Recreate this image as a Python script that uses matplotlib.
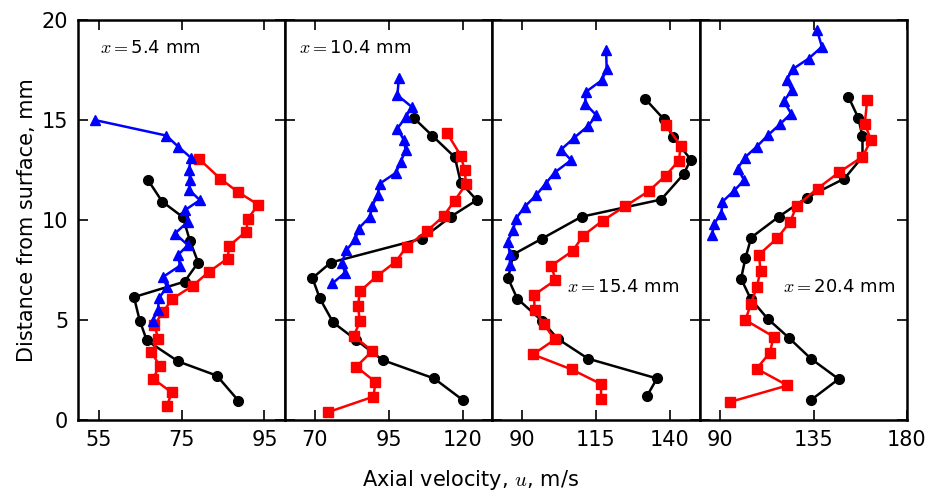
import matplotlib
matplotlib.use("Agg")
import matplotlib.pyplot as plt

plt.rcParams['mathtext.fontset'] = 'cm'

# Axial velocity profiles at four stations; each series: (velocity list, height list)
labels = ["5.4", "10.4", "15.4", "20.4"]
xlims = [(50, 100), (60, 130), (80, 150), (80, 180)]
xticks = [[55, 75, 95], [70, 95, 120], [90, 115, 140], [90, 135, 180]]

# black circles
k_u = [
    [66.9, 70.3, 75.3, 77.0, 79.0, 75.7, 63.5, 64.9, 66.6, 74.2, 83.5, 88.7],
    [103.5, 109.7, 117.3, 119.3, 124.7, 116.0, 106.3, 75.4, 69.2, 71.7, 76.2, 84.0, 92.9, 110.3, 120.0],
    [131.7, 137.9, 140.9, 147.0, 144.6, 137.0, 110.1, 96.7, 87.0, 85.3, 88.4, 96.7, 102.0, 112.3, 135.6, 132.2],
    [151.8, 156.5, 158.6, 158.6, 149.9, 131.6, 118.2, 104.9, 102.1, 100.0, 104.6, 112.8, 123.0, 133.7, 147.1, 133.7],
]
k_y = [
    [12.0, 10.93, 10.15, 8.97, 7.88, 6.92, 6.15, 4.97, 3.98, 2.93, 2.22, 0.97],
    [15.1, 14.22, 13.15, 11.88, 11.0, 10.18, 9.08, 7.88, 7.1, 6.08, 4.88, 4.0, 3.0, 2.08, 1.0],
    [16.05, 15.05, 14.17, 13.03, 12.3, 11.03, 10.17, 9.07, 8.28, 7.08, 6.07, 4.97, 4.07, 3.07, 2.08, 1.2],
    [16.17, 15.13, 14.2, 13.17, 12.08, 11.12, 10.17, 9.13, 8.1, 7.07, 6.07, 5.07, 4.12, 3.07, 2.05, 1.0],
]

# red squares
r_u = [
    [79.1, 84.3, 88.5, 93.5, 91.0, 90.6, 86.5, 86.1, 81.5, 77.7, 72.8, 70.5, 68.4, 69.4, 67.7, 69.7, 68.1, 72.6, 71.5],
    [114.6, 119.3, 120.6, 121.1, 117.2, 113.5, 108.0, 101.0, 97.4, 91.0, 85.2, 84.6, 85.2, 83.2, 89.4, 84.0, 90.5, 89.8, 74.6],
    [138.5, 143.6, 143.0, 138.5, 132.8, 124.9, 117.2, 110.6, 107.2, 99.9, 101.3, 94.0, 94.3, 97.4, 101.1, 93.7, 106.8, 116.7, 116.7],
    [160.9, 159.7, 162.7, 158.6, 147.4, 136.9, 126.9, 123.7, 117.5, 108.6, 109.4, 107.5, 104.7, 102.1, 115.7, 113.9, 107.5, 122.4, 94.5],
]
r_y = [
    [13.08, 12.08, 11.42, 10.77, 10.08, 9.43, 8.72, 8.08, 7.4, 6.72, 6.07, 5.4, 4.75, 4.05, 3.4, 2.72, 2.07, 1.38, 0.72],
    [14.37, 13.23, 12.5, 11.8, 10.97, 10.2, 9.47, 8.67, 7.93, 7.2, 6.43, 5.7, 4.93, 4.2, 3.45, 2.67, 1.9, 1.17, 0.4],
    [14.78, 13.72, 12.98, 12.22, 11.45, 10.7, 9.97, 9.22, 8.47, 7.72, 7.0, 6.25, 5.5, 4.78, 4.03, 3.28, 2.53, 1.8, 1.05],
    [16.03, 14.83, 14.0, 13.17, 12.4, 11.58, 10.73, 9.92, 9.1, 8.27, 7.47, 6.63, 5.8, 5.0, 4.17, 3.37, 2.57, 1.73, 0.9],
]

# blue triangles
b_u = [
    [54.2, 71.3, 74.2, 77.2, 76.8, 77.0, 76.9, 79.4, 75.8, 76.5, 73.4, 76.5, 74.1, 74.6, 70.6, 71.4, 69.5, 69.3, 68.0],
    [98.4, 97.9, 102.7, 100.8, 97.9, 100.1, 100.7, 99.0, 97.4, 92.0, 91.2, 89.4, 88.6, 84.8, 83.7, 80.7, 79.1, 80.2, 75.9],
    [118.4, 118.6, 117.0, 111.6, 111.3, 115.1, 112.4, 107.7, 103.2, 106.6, 101.0, 98.0, 94.8, 90.9, 87.9, 87.0, 85.1, 85.9, 85.9],
    [136.6, 139.0, 132.6, 125.3, 122.0, 124.4, 120.7, 124.1, 118.8, 113.0, 107.5, 101.8, 98.3, 101.5, 96.6, 91.0, 90.5, 86.8, 86.1],
]
b_y = [
    [15.0, 14.23, 13.67, 13.13, 12.5, 12.0, 11.5, 11.0, 10.5, 9.92, 9.33, 8.75, 8.25, 7.72, 7.17, 6.65, 6.08, 5.5, 4.95],
    [17.13, 16.25, 15.67, 15.17, 14.58, 14.0, 13.5, 12.92, 12.37, 11.83, 11.25, 10.7, 10.17, 9.58, 9.05, 8.5, 7.87, 7.37, 6.83],
    [18.5, 17.58, 17.0, 16.42, 15.83, 15.25, 14.72, 14.13, 13.53, 13.0, 12.38, 11.83, 11.25, 10.67, 10.07, 9.5, 8.92, 8.33, 7.75],
    [19.53, 18.67, 18.08, 17.58, 17.03, 16.5, 15.95, 15.33, 14.8, 14.25, 13.67, 13.13, 12.58, 12.0, 11.47, 10.92, 10.33, 9.8, 9.25],
]

label_pos = [(0.105, 0.93), (0.066, 0.93), (0.36, 0.333), (0.40, 0.333)]

fig, axes = plt.subplots(1, 4, sharey=True, figsize=(9.32, 4.93), dpi=100)
fig.subplots_adjust(left=0.0837, right=0.973, top=0.959, bottom=0.148, wspace=0)

for i, ax in enumerate(axes):
    ax.plot(k_u[i], k_y[i], 'k-o', lw=1.8, ms=7, mec='k')
    ax.plot(r_u[i], r_y[i], 'r-s', lw=1.8, ms=7, mec='r')
    ax.plot(b_u[i], b_y[i], 'b-^', lw=1.8, ms=7, mec='b')
    ax.set_xlim(xlims[i])
    ax.set_xticks(xticks[i])
    ax.set_ylim(0, 20)
    ax.set_yticks([0, 5, 10, 15, 20])
    ax.tick_params(direction='in', top=True, right=True, length=7, width=1.2,
                   labelsize=15, pad=7)
    for sp in ax.spines.values():
        sp.set_linewidth(1.8)
    ax.text(label_pos[i][0], label_pos[i][1], r'$x=$' + labels[i] + ' mm',
            transform=ax.transAxes, fontsize=13, va='center', ha='left')

axes[0].set_ylabel('Distance from surface, mm', fontsize=15)
axes[0].yaxis.set_label_coords(-0.20, 0.5)
fig.text(0.505, 0.026, r'Axial velocity, $u$, m/s', fontsize=15, ha='center', va='center')

fig.savefig('out.png', dpi=100)
